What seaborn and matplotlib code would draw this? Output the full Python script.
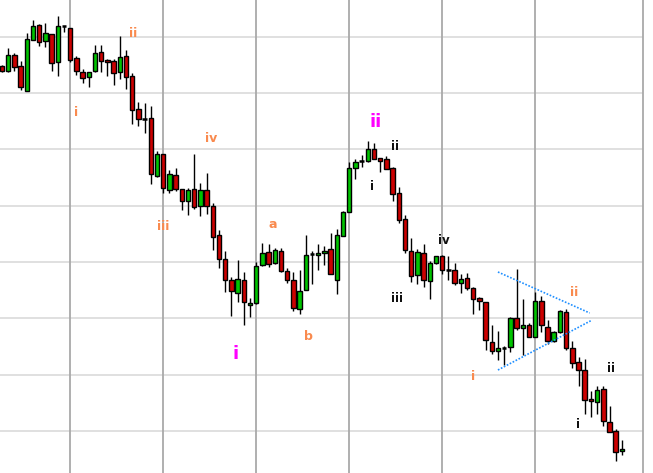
import numpy as np
import pandas as pd
import matplotlib
matplotlib.use("Agg")
import matplotlib.pyplot as plt
import seaborn as sns

# ── OHLC (101 bars, arbitrary price units) ───────────────────────────────────
opens = [434, 428.5, 444.5, 433.5, 409, 460, 475, 458.5, 465.5, 437.5,
         473.5, 471.5, 441.5, 427.5, 422.5, 428.5, 447.5, 439.5, 439, 427.5,
         443.5, 423.5, 390.5, 380.5, 381.5, 323.5, 345.5, 309.5, 324.5, 310.5,
         298.5, 310.5, 293.5, 309.5, 293.5, 264.5, 240.5, 219.5, 206.5, 219.5,
         194.5, 196.5, 234.5, 247.5, 236.5, 248.5, 228.5, 219.5, 191.5, 209.5,
         245.5, 244.5, 246.5, 250.5, 219.5, 263.5, 287.5, 331.5, 338.5, 338.5,
         350.5, 341.5, 340.5, 331.5, 306.5, 280.5, 248.5, 224.5, 246.5, 218.5,
         236.5, 243.5, 229.5, 229.5, 216.5, 221.5, 211.5, 201.5, 197.5, 158.5,
         149.5, 152.5, 153.5, 182.5, 172.5, 175.5, 163.5, 198.5, 173.5, 159.5,
         168.5, 188.5, 152.5, 138.5, 130.5, 101.5, 98.5, 111.5, 78.5, 69.5,
         49.5]
highs = [435, 452, 446.5, 439, 467, 480, 476, 477, 466, 483.5,
         474, 472, 443.5, 431, 428, 455, 455, 440.5, 440.5, 463.5,
         450, 426.5, 398, 396.5, 394, 348.5, 346, 330, 331.5, 311,
         311.5, 345.5, 316.5, 326.5, 296.5, 270, 248.5, 222.5, 239.5, 227.5,
         201.5, 237.5, 256.5, 255.5, 251.5, 251.5, 231.5, 227.5, 229.5, 264.5,
         248.5, 255.5, 253.5, 266.5, 270.5, 288.5, 337.5, 340.5, 345, 358.5,
         356.5, 342, 343.5, 332.5, 312.5, 284.5, 261.5, 250.5, 255.5, 238.5,
         244, 244.5, 243.5, 236.5, 225.5, 226.5, 212.5, 202.5, 198, 175.5,
         169.5, 154.5, 183, 230.5, 200.5, 177.5, 207.5, 203.5, 180.5, 169.5,
         190, 191.5, 159.5, 143.5, 141.5, 109.5, 114.5, 114.5, 94.5, 71.5,
         60.5]
lows = [428, 428, 429, 409.5, 408.5, 459.5, 453.5, 453, 429, 423.5,
        467.5, 437.5, 424.5, 417, 412.5, 428, 428, 423.5, 414.5, 421,
        411, 375.5, 373.5, 366.5, 315.5, 323, 306.5, 306.5, 309, 290,
        284.5, 290.5, 283.5, 285.5, 249.5, 231.5, 207.5, 184.5, 197.5, 175.5,
        183.5, 196, 234, 232.5, 236, 227.5, 216.5, 189.5, 186.5, 209.5,
        215.5, 229.5, 234.5, 225.5, 205.5, 263.5, 287.5, 320.5, 332.5, 337.5,
        340.5, 327.5, 330.5, 298.5, 276.5, 246.5, 217.5, 215.5, 212.5, 200.5,
        235.5, 225.5, 219.5, 214.5, 206.5, 209.5, 186.5, 190.5, 150.5, 146.5,
        140.5, 135.5, 148, 170.5, 145.5, 163, 163, 168.5, 156, 158.5,
        167.5, 150.5, 132.5, 114.5, 86.5, 83.5, 86.5, 74.5, 68.5, 39.5,
        45.5]
closes = [429, 444.5, 432.5, 412.5, 460.5, 474, 458, 466.5, 436.5, 474,
          473.5, 439.5, 429, 422, 427.5, 446.5, 438.5, 437.5, 426.5, 442.5,
          422.5, 389.5, 380.5, 380.5, 325.5, 345.5, 311.5, 325.5, 310.5, 298.5,
          309.5, 292.5, 309.5, 293.5, 262.5, 240.5, 219.5, 208.5, 220.5, 197.5,
          196.5, 233.5, 246.5, 235.5, 249.5, 228.5, 219.5, 191.5, 209.5, 244.5,
          245.5, 246.5, 248.5, 225.5, 264.5, 287.5, 331.5, 337.5, 338.5, 350.5,
          340.5, 338.5, 330.5, 305.5, 279.5, 249.5, 223.5, 247.5, 219.5, 236.5,
          243.5, 229.5, 229.5, 216.5, 220.5, 211.5, 200.5, 198.5, 159.5, 149.5,
          152.5, 152.5, 182.5, 172.5, 175.5, 163.5, 199.5, 174.5, 159.5, 168.5,
          189.5, 152.5, 137.5, 130.5, 100.5, 99.5, 110.5, 79.5, 68.5, 48.5,
          51.5]

# Elliott wave labels: (text, bar, price, colour key)
wave_text = ["ii", "i", "iv", "iii", "a", "b", "i", "ii",
             "ii", "i", "iii", "iv", "i", "ii", "ii", "i"]
wave_bar = [21.1, 11.9, 33.7, 26.0, 43.7, 49.5, 37.6, 60.2,
            63.4, 59.7, 63.7, 71.3, 76.0, 92.3, 98.2, 92.9]
wave_price = [466, 387, 362, 273, 276, 163, 146, 378,
              353, 313, 202, 260, 124, 208, 132, 76]
wave_kind = ["minor", "minor", "minor", "minor", "minor", "minor", "major", "major",
             "sub", "sub", "sub", "sub", "minor", "minor", "sub", "sub"]

# triangle trend lines
tri_upper_bar, tri_upper_price = [80, 94.8], [228, 187]
tri_lower_bar, tri_lower_price = [80, 95.2], [130, 180]

grid_bars = [11, 26, 41, 56, 71, 86]
grid_prices = [69, 125.3, 181.6, 237.9, 294.2, 350.5, 406.8, 463.1]

df = pd.DataFrame({"open": opens, "high": highs, "low": lows, "close": closes})
df["bar"] = np.arange(len(df))

sns.set_theme(style="white")
UP, DOWN = "#00c400", "#cc0000"
STYLE = {"minor": dict(color="#f98a4e", fontsize=9),
         "sub":   dict(color="#111111", fontsize=8.5),
         "major": dict(color="#ff00ff", fontsize=13)}

fig = plt.figure(figsize=(6.53, 4.73), dpi=100)
ax = fig.add_axes([0, 0, 643 / 653, 1])

# grid
for p in grid_prices:
    ax.axhline(p, color="#dddddd", lw=1.3, zorder=0)
for b in grid_bars:
    ax.axvline(b, color="#a9a9a9", lw=1.3, zorder=0)

# wicks
ax.vlines(df["bar"], df["low"], df["high"], color="black", lw=1, zorder=2)
# bodies
doji = df["open"] == df["close"]
body = df[~doji]
cols = np.where(body["close"] > body["open"], UP, DOWN)
ax.bar(body["bar"], body["close"] - body["open"], bottom=body["open"], width=0.72,
       color=cols, edgecolor="black", linewidth=1, zorder=3)
d = df[doji]
ax.hlines(d["close"], d["bar"] - 0.38, d["bar"] + 0.38, color="black", lw=1.8, zorder=3)

# triangle
tri = pd.DataFrame({"bar": tri_upper_bar + tri_lower_bar,
                    "price": tri_upper_price + tri_lower_price,
                    "line": ["up", "up", "lo", "lo"]})
sns.lineplot(data=tri, x="bar", y="price", units="line", estimator=None, ax=ax,
             color="#1e8fff", lw=1.2, linestyle=(0, (1, 1)), zorder=4)

for t, b, p, k in zip(wave_text, wave_bar, wave_price, wave_kind):
    ax.text(b, p, t, ha="center", va="center", fontweight="bold", zorder=5, **STYLE[k])

ax.set_xlim(-0.32, 103.4)
ax.set_ylim(27, 500)
ax.set_xticks([]); ax.set_yticks([])
ax.set_xlabel(""); ax.set_ylabel("")
for s in ["top", "left", "bottom"]:
    ax.spines[s].set_visible(False)
ax.spines["right"].set_color("#a9a9a9")
ax.spines["right"].set_linewidth(1.3)

fig.savefig("out.png", dpi=100)
